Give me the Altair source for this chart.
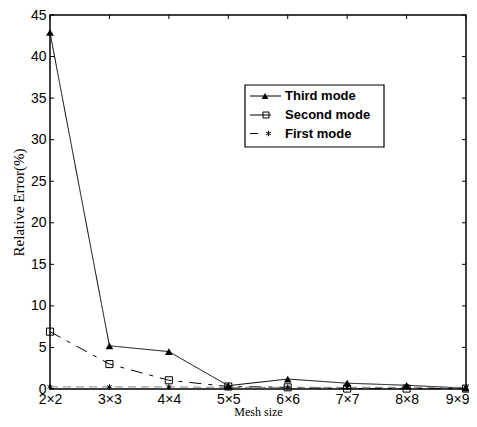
import altair as alt
import pandas as pd

meshes = ["2×2", "3×3", "4×4", "5×5", "6×6", "7×7", "8×8", "9×9"]
series_names = ["Third mode", "Second mode", "First mode"]
third = [42.9, 5.2, 4.5, 0.4, 1.2, 0.7, 0.45, 0.1]
second = [6.9, 3.0, 1.05, 0.3, 0.2, 0.05, 0.05, 0.05]
first = [0.25, 0.25, 0.25, 0.2, 0.2, 0.2, 0.2, 0.2]
y_ticks = [0, 5, 10, 15, 20, 25, 30, 35, 40, 45]

rows = []
for name, vals in zip(series_names, [third, second, first]):
    for m, v in zip(meshes, vals):
        rows.append({"mesh": m, "series": name, "value": v})
df = pd.DataFrame(rows)
ytick_df = pd.DataFrame({"t": y_ticks})
xtick_df = pd.DataFrame({"mesh": meshes})
legend_df = pd.DataFrame({"series": series_names})

W, H = 416, 374

x_scale = alt.Scale(type="point", padding=0, domain=meshes)
y_scale = alt.Scale(domain=[0, 45], nice=False)
last_test = "datum.label == '9×9'"
x_axis = alt.Axis(title="Mesh size", labelAngle=0, ticks=False, domain=False, grid=False,
                  labelFont="Liberation Sans", labelFontSize=14, labelColor="black",
                  labelAlign={"condition": {"test": last_test, "value": "right"}, "value": "center"},
                  labelOffset={"condition": {"test": last_test, "value": 3}, "value": 0},
                  labelPadding=3, titleFont="Liberation Serif", titleFontSize=12,
                  titleFontWeight="normal", titleColor="black", titlePadding=0)
y_axis = alt.Axis(title="Relative Error(%)", values=y_ticks, ticks=False, domain=False, grid=False,
                  labelFont="Liberation Sans", labelFontSize=14, labelColor="black",
                  labelPadding=4, titleFont="Liberation Serif", titleFontSize=15,
                  titleFontWeight="normal", titleColor="black", titlePadding=4)

x_enc = alt.X("mesh:N", sort=meshes, scale=x_scale, axis=x_axis)
y_enc = alt.Y("value:Q", scale=y_scale, axis=y_axis)

base = alt.Chart(df)

lines = base.mark_line().encode(
    x=x_enc, y=y_enc,
    color=alt.Color("series:N", scale=alt.Scale(domain=series_names, range=["black", "black", "#7f7f7f"]), legend=None),
    strokeDash=alt.StrokeDash("series:N", scale=alt.Scale(domain=series_names, range=[[1, 0], [12, 7, 4, 7], [8, 5]]), legend=None),
    strokeWidth=alt.StrokeWidth("series:N", scale=alt.Scale(domain=series_names, range=[1, 1, 2]), legend=None),
)

asterisk = "M0,-1L0,1M-0.87,-0.5L0.87,0.5M-0.87,0.5L0.87,-0.5"
marker_styles = {
    "Third mode": dict(shape="triangle-up", filled=True, size=60),
    "Second mode": dict(shape="square", filled=False, size=50),
    "First mode": dict(shape=asterisk, filled=False, size=30),
}

point_layers = []
for name in ["Second mode", "First mode", "Third mode"]:
    st = marker_styles[name]
    point_layers.append(
        base.transform_filter(alt.datum.series == name).mark_point(
            shape=st["shape"], filled=st["filled"], color="black", size=st["size"],
            strokeWidth=1, opacity=1).encode(x=x_enc, y=y_enc)
    )

# inward ticks on all four sides
y_enc_t = alt.Y("t:Q", scale=y_scale, axis=y_axis)
ytl = alt.Chart(ytick_df).mark_rule(color="black", strokeWidth=1).encode(y=y_enc_t, x=alt.value(0), x2=alt.value(4))
ytr = alt.Chart(ytick_df).mark_rule(color="black", strokeWidth=1).encode(y=y_enc_t, x=alt.value(W), x2=alt.value(W - 4))
xtb = alt.Chart(xtick_df).mark_rule(color="black", strokeWidth=1).encode(x=x_enc, y=alt.value(H), y2=alt.value(H - 4))
xtt = alt.Chart(xtick_df).mark_rule(color="black", strokeWidth=1).encode(x=x_enc, y=alt.value(0), y2=alt.value(4))

# legend (drawn as a boxed key inside the plot)
lg = alt.Chart(legend_df)
box = lg.transform_filter(alt.datum.series == series_names[0]).mark_rect(
    fill="white", stroke="black", strokeWidth=1.2).encode(
    x=alt.value(195), x2=alt.value(334), y=alt.value(70), y2=alt.value(132))
legend_layers = [box]
row_y = [81, 100, 118.5]
seg = {"Third mode": (200, 231), "Second mode": (200, 221), "First mode": (200, 208)}
mk_x = {"Third mode": 215, "Second mode": 216, "First mode": 218.5}
leg_marker = {
    "Third mode": dict(shape="triangle-up", filled=True, size=45),
    "Second mode": dict(shape="square", filled=False, size=36),
    "First mode": dict(shape=asterisk, filled=False, size=30),
}
for name, yy in zip(series_names, row_y):
    sub = lg.transform_filter(alt.datum.series == name)
    legend_layers.append(sub.mark_rule(color="black", strokeWidth=1).encode(
        x=alt.value(seg[name][0]), x2=alt.value(seg[name][1]), y=alt.value(yy)))
    m = leg_marker[name]
    legend_layers.append(sub.mark_point(shape=m["shape"], filled=m["filled"], color="black",
                                        size=m["size"], strokeWidth=1, opacity=1).encode(
        x=alt.value(mk_x[name]), y=alt.value(yy)))
    legend_layers.append(sub.mark_text(align="left", baseline="middle", font="Liberation Sans",
                                       fontWeight="bold", fontSize=13, color="black").encode(
        x=alt.value(235), y=alt.value(yy), text="series:N"))

chart = alt.layer(ytl, ytr, xtb, xtt, lines, *point_layers, *legend_layers).properties(
    width=W, height=H,
    autosize=alt.AutoSizeParams(type="none"),
    padding={"left": 42, "top": 7, "right": 3, "bottom": 30},
    background="white",
).configure_view(stroke="black", strokeWidth=1.5)

chart.save("out.html", embed_options={"renderer": "svg", "actions": False})
